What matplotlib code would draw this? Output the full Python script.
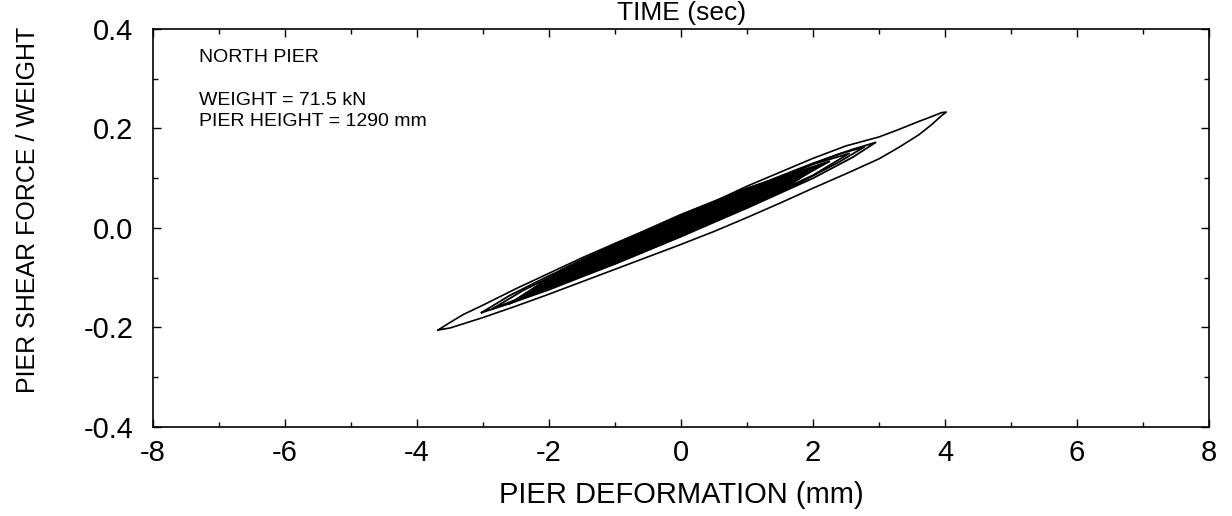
import numpy as np
import matplotlib.pyplot as plt
from matplotlib.ticker import MultipleLocator, FormatStrFormatter

plt.rcParams["font.family"] = ["Liberation Sans", "DejaVu Sans"]

# ── Data (deformation mm, shear/weight) ───────────────────────────────────────

# outer (largest) cycle
outer_x = [-3.68, -3.5, -3.0, -2.5, -2.0, -1.5, -1.0, -0.5, 0.0, 0.5, 1.0, 1.5, 2.0,
           2.5, 3.0, 3.3, 3.6, 3.8, 3.95, 4.02,
           3.95, 3.8, 3.6, 3.3, 3.0, 2.5, 2.0, 1.5, 1.0, 0.5, 0.0, -0.5, -1.0, -1.5,
           -2.0, -2.5, -3.0, -3.3, -3.5, -3.68]
outer_y = [-0.205, -0.201, -0.180, -0.157, -0.133, -0.108, -0.083, -0.058, -0.033,
           -0.007, 0.021, 0.050, 0.080, 0.109, 0.139, 0.162, 0.187, 0.208, 0.226, 0.233,
           0.232, 0.224, 0.214, 0.198, 0.183, 0.165, 0.140, 0.112, 0.084, 0.053, 0.026,
           -0.003, -0.031, -0.060, -0.091, -0.122, -0.155, -0.174, -0.190, -0.205]

# inner cycles
loop_b_x = [-3.02, -2.6, -2.0, -1.0, 0.0, 1.0, 2.0, 2.6, 2.95,
            2.6, 2.0, 1.0, 0.0, -1.0, -2.0, -2.6, -3.02]
loop_b_y = [-0.170, -0.152, -0.124, -0.072, -0.017, 0.040, 0.100, 0.142, 0.172,
            0.158, 0.130, 0.078, 0.023, -0.036, -0.096, -0.136, -0.170]

loop_c_x = [-2.85, -2.4, -1.8, -1.0, 0.0, 1.0, 1.8, 2.4, 2.78,
            2.4, 1.8, 1.0, 0.0, -1.0, -1.8, -2.4, -2.85]
loop_c_y = [-0.162, -0.139, -0.111, -0.070, -0.015, 0.042, 0.091, 0.133, 0.163,
            0.149, 0.119, 0.076, 0.020, -0.038, -0.087, -0.126, -0.162]

loop_d_x = [-2.6, -2.0, -1.0, 0.0, 1.0, 2.0, 2.55, 2.0, 1.0, 0.0, -1.0, -2.0, -2.6]
loop_d_y = [-0.152, -0.120, -0.069, -0.013, 0.045, 0.106, 0.150,
            0.128, 0.075, 0.018, -0.040, -0.102, -0.152]

loop_e_x = [-2.3, -1.5, -0.5, 0.5, 1.5, 2.25, 1.5, 0.5, -0.5, -1.5, -2.3]
loop_e_y = [-0.132, -0.094, -0.039, 0.017, 0.078, 0.134, 0.100, 0.045, -0.012, -0.070, -0.132]

loop_f_x = [-1.95, -1.0, 0.0, 1.0, 1.95, 1.0, 0.0, -1.0, -1.95]
loop_f_y = [-0.113, -0.066, -0.010, 0.048, 0.117, 0.073, 0.018, -0.040, -0.113]

# dense core where the many small cycles overlap
core_x = [-2.5, -1.8, -1.0, 0.0, 1.0, 1.6, 2.2, 1.6, 1.0, 0.0, -1.0, -1.8, -2.5]
core_y = [-0.142, -0.081, -0.030, 0.029, 0.082, 0.108, 0.133,
          0.080, 0.040, -0.019, -0.074, -0.113, -0.142]

INFO_LINES = ["NORTH PIER", "WEIGHT = 71.5 kN", "PIER HEIGHT = 1290 mm"]


def main():
    fig = plt.figure(figsize=(12.32, 5.16), dpi=100)
    ax = fig.add_axes([0.1242, 0.1725, 0.8571, 0.7713])

    ax.fill(core_x, core_y, color="black", lw=0)
    for lx, ly in [(loop_f_x, loop_f_y), (loop_e_x, loop_e_y), (loop_d_x, loop_d_y),
                   (loop_c_x, loop_c_y), (loop_b_x, loop_b_y)]:
        ax.plot(lx, ly, color="black", lw=1.3, solid_joinstyle="round")
    ax.plot(outer_x, outer_y, color="black", lw=1.2, solid_joinstyle="round")

    ax.set_xlim(-8, 8)
    ax.set_ylim(-0.4, 0.4)
    ax.xaxis.set_major_locator(MultipleLocator(2))
    ax.xaxis.set_minor_locator(MultipleLocator(1))
    ax.yaxis.set_major_locator(MultipleLocator(0.2))
    ax.yaxis.set_minor_locator(MultipleLocator(0.1))

    ax.tick_params(which="both", direction="in", top=True, right=True, width=1.0)
    ax.tick_params(which="major", length=6, labelsize=21)
    ax.tick_params(which="minor", length=3.5)
    ax.tick_params(axis="x", which="major", pad=9)
    ax.tick_params(axis="y", which="major", pad=14)
    for s in ax.spines.values():
        s.set_linewidth(1.2)

    # plain hyphen minus like the original
    ax.set_xticks(ax.get_xticks())
    ax.set_xticklabels([f"{int(round(v))}" for v in ax.get_xticks()])
    ax.set_yticks(ax.get_yticks())
    ax.set_yticklabels([f"{v:.1f}" if abs(v) > 1e-9 else "0.0" for v in ax.get_yticks()])
    ax.set_xlim(-8, 8)
    ax.set_ylim(-0.4, 0.4)

    ax.set_xlabel("PIER DEFORMATION (mm)", fontsize=21)
    ax.xaxis.set_label_coords(0.5, -0.135)
    ax.set_ylabel("PIER SHEAR FORCE / WEIGHT", fontsize=18)
    ax.yaxis.set_label_coords(-0.107, 0.545)

    ax.text(-7.3, 0.342, INFO_LINES[0], fontsize=14, va="center")
    ax.text(-7.3, 0.257, INFO_LINES[1], fontsize=14, va="center")
    ax.text(-7.3, 0.215, INFO_LINES[2], fontsize=14, va="center")

    # axis title of the panel above, at the very top edge
    fig.text(0.553, 0.999, "TIME (sec)", fontsize=19, ha="center", va="top")

    fig.savefig("out.png", dpi=100)


if __name__ == "__main__":
    main()
